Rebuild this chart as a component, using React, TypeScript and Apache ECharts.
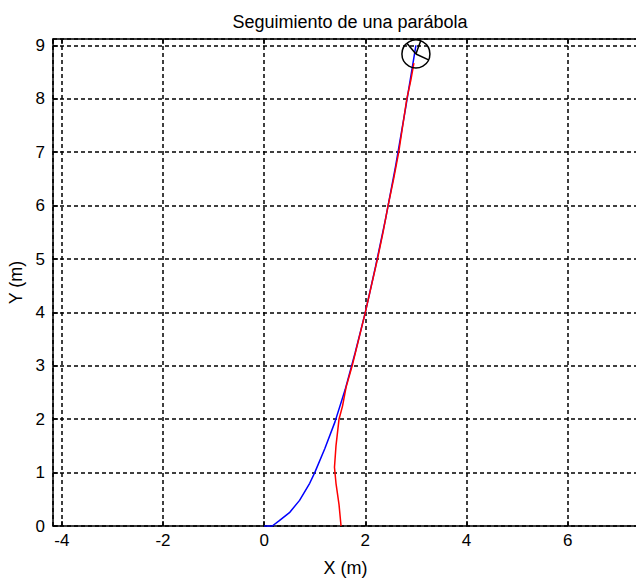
import React, { useEffect, useRef } from "react";
import * as echarts from "echarts";

const titleText = "Seguimiento de una parábola";
const xAxisName = "X (m)";
const yAxisName = "Y (m)";
const xLimits = [-4.174, 7.39];
const yLimits = [0, 9.12];

// reference parabola (blue)
const refX = [0, 0.16, 0.3, 0.5, 0.7, 0.9, 1.0, 1.2, 1.4, 1.6, 1.8, 2.0, 2.2, 2.4, 2.6, 2.8, 3.0];
const refY = [0, 0, 0.1, 0.25, 0.48, 0.8, 1.0, 1.45, 1.95, 2.55, 3.25, 4.0, 4.85, 5.75, 6.75, 7.85, 9.0];

// robot trajectory (red)
const robX = [1.52, 1.48, 1.42, 1.39, 1.42, 1.48, 1.55, 1.62, 1.74, 1.87, 2.0, 2.12, 2.24, 2.35, 2.45, 2.56, 2.66, 2.74, 2.82, 2.9, 2.96];
const robY = [0, 0.4, 0.8, 1.1, 1.5, 2.0, 2.25, 2.6, 3.0, 3.5, 4.0, 4.5, 5.0, 5.5, 6.0, 6.5, 7.0, 7.5, 8.0, 8.35, 8.67];

// robot pose marker
const robotPose = [3.0, 8.84];

const FONT = "Liberation Sans";

export default function App() {
  const ref = useRef<HTMLDivElement>(null);
  useEffect(() => {
    if (!ref.current) return;
    const chart = echarts.init(ref.current, null, { renderer: "svg" });
    const axisLineStyle = { color: "#000", width: 1.5 };
    const labelStyle = { color: "#000", fontSize: 17, fontFamily: FONT };
    const option: any = {
      animation: false,
      backgroundColor: "#fff",
      title: {
        text: titleText,
        left: 345,
        top: 8,
        textAlign: "center",
        textStyle: { color: "#000", fontSize: 18, fontWeight: "normal", fontFamily: FONT },
      },
      grid: { left: 53, top: 39, right: -2, bottom: 52, containLabel: false, outerBoundsMode: "none" },
      xAxis: [
        {
          type: "value",
          min: xLimits[0],
          max: xLimits[1],
          splitNumber: 6,
          position: "bottom",
          name: xAxisName,
          nameLocation: "middle",
          nameGap: 33,
          nameTextStyle: { color: "#000", fontSize: 18, fontFamily: FONT },
          axisLine: { show: true, onZero: false, lineStyle: axisLineStyle },
          axisTick: { show: true, inside: true, length: 5, lineStyle: axisLineStyle },
          axisLabel: { ...labelStyle, margin: 6, showMinLabel: false, showMaxLabel: false },
          splitLine: { show: true, lineStyle: { color: "#000", width: 1.5, type: [4, 3] } },
        },
        {
          type: "value",
          min: xLimits[0],
          max: xLimits[1],
          splitNumber: 6,
          position: "top",
          axisLine: { show: true, onZero: false, lineStyle: axisLineStyle },
          axisTick: { show: true, inside: true, length: 5, lineStyle: axisLineStyle },
          axisLabel: { show: false },
          splitLine: { show: false },
        },
      ],
      yAxis: [
        {
          type: "value",
          min: yLimits[0],
          max: yLimits[1],
          interval: 1,
          name: yAxisName,
          nameLocation: "middle",
          nameGap: 28,
          nameTextStyle: { color: "#000", fontSize: 18, fontFamily: FONT },
          axisLine: { show: true, onZero: false, lineStyle: axisLineStyle },
          axisTick: { show: true, inside: true, length: 5, lineStyle: axisLineStyle },
          axisLabel: { ...labelStyle, margin: 8, showMaxLabel: false },
          splitLine: { show: true, lineStyle: { color: "#000", width: 1.5, type: [4, 3] } },
        },
      ],
      series: [
        {
          type: "line",
          data: refX.map((x, i) => [x, refY[i]]),
          showSymbol: false,
          clip: false,
          lineStyle: { color: "#0000ff", width: 1.5 },
          z: 3,
        },
        {
          type: "line",
          data: robX.map((x, i) => [x, robY[i]]),
          showSymbol: false,
          clip: false,
          lineStyle: { color: "#ff0000", width: 1.5 },
          z: 4,
        },
        {
          type: "custom",
          data: [robotPose],
          clip: false,
          z: 5,
          renderItem: (params: any, api: any) => {
            const c = api.coord([api.value(0), api.value(1)]);
            const r = 14;
            const angs = [130, -25, 70];
            const stroke = { stroke: "#000", lineWidth: 1.5, fill: "none" };
            return {
              type: "group",
              children: [
                { type: "circle", shape: { cx: c[0], cy: c[1], r }, style: stroke },
                ...angs.map((a) => ({
                  type: "line",
                  shape: {
                    x1: c[0],
                    y1: c[1],
                    x2: c[0] + r * Math.cos((a * Math.PI) / 180),
                    y2: c[1] - r * Math.sin((a * Math.PI) / 180),
                  },
                  style: stroke,
                })),
              ],
            };
          },
        },
      ],
    };
    chart.setOption(option);
    return () => chart.dispose();
  }, []);
  return (
    <div
      ref={ref}
      style={{ position: "absolute", left: 0, top: 0, width: 636, height: 578, overflow: "hidden", background: "#fff" }}
    />
  );
}
